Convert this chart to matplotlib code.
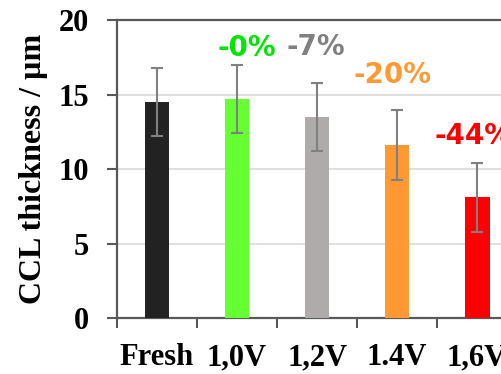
import matplotlib
matplotlib.use('Agg')
import matplotlib.pyplot as plt

# data
samples = ['Fresh', '1,0V', '1,2V', '1.4V', '1,6V']
thickness = [14.5, 14.7, 13.5, 11.6, 8.1]
thickness_err = [2.3, 2.3, 2.3, 2.35, 2.3]
change_labels = ['', '-0%', '-7%', '-20%', '-44%']

bar_colors = ['#222222', '#66ff33', '#afabab', '#ff9933', '#ff0000']
label_colors = ['#000000', '#00e600', '#808080', '#ff9933', '#ff0000']
label_x_shift = [0, 0.12, -0.02, -0.06, -0.04]
label_y = [0, 18.1, 18.2, 16.3, 12.2]

fig = plt.figure(figsize=(5.02, 3.74), dpi=100)
# the plot area runs past the right edge of the picture, as in the reference
ax = fig.add_axes([0.2331, 0.1497, 0.797, 0.7968])

x = list(range(len(samples)))
ax.bar(x, thickness, width=0.31, color=bar_colors, zorder=3)
ax.errorbar(x, thickness, yerr=thickness_err, fmt='none', ecolor='#808080',
            elinewidth=1.5, capsize=4, capthick=1.5, zorder=4)

for i, lab in enumerate(change_labels):
    if lab:
        ax.text(i + label_x_shift[i], label_y[i], lab, color=label_colors[i],
                ha='center', va='center', fontsize=20, fontweight='bold',
                family='DejaVu Sans', clip_on=False)

ax.set_xlim(-0.5, len(samples) - 0.5)
ax.set_ylim(0, 20)
ax.set_yticks([0, 5, 10, 15, 20])
ax.yaxis.grid(True, color='#d9d9d9', linewidth=1.2, zorder=0)

# tick marks on category borders, labels under the bars
ax.set_xticks([i - 0.5 for i in range(len(samples) + 1)])
ax.set_xticklabels([])
ax.set_xticks(x, minor=True)
ax.set_xticklabels(samples, minor=True)
ax.tick_params(axis='x', which='minor', length=0, pad=18)
ax.tick_params(axis='x', which='major', length=7, width=1.5, color='#595959')
ax.tick_params(axis='y', length=7, width=1.5, color='#595959', pad=13)

for lab in ax.get_xticklabels(minor=True) + ax.get_yticklabels():
    lab.set_fontfamily('Liberation Serif')
    lab.set_fontweight('bold')
    lab.set_fontsize(22)

ax.set_ylabel('CCL thickness / µm', family='Liberation Serif',
              fontweight='bold', fontsize=23, labelpad=8)

for side in ['left', 'bottom', 'top']:
    ax.spines[side].set_color('#595959')
    ax.spines[side].set_linewidth(1.6)
ax.spines['right'].set_visible(False)

fig.savefig('out.png', dpi=100)
